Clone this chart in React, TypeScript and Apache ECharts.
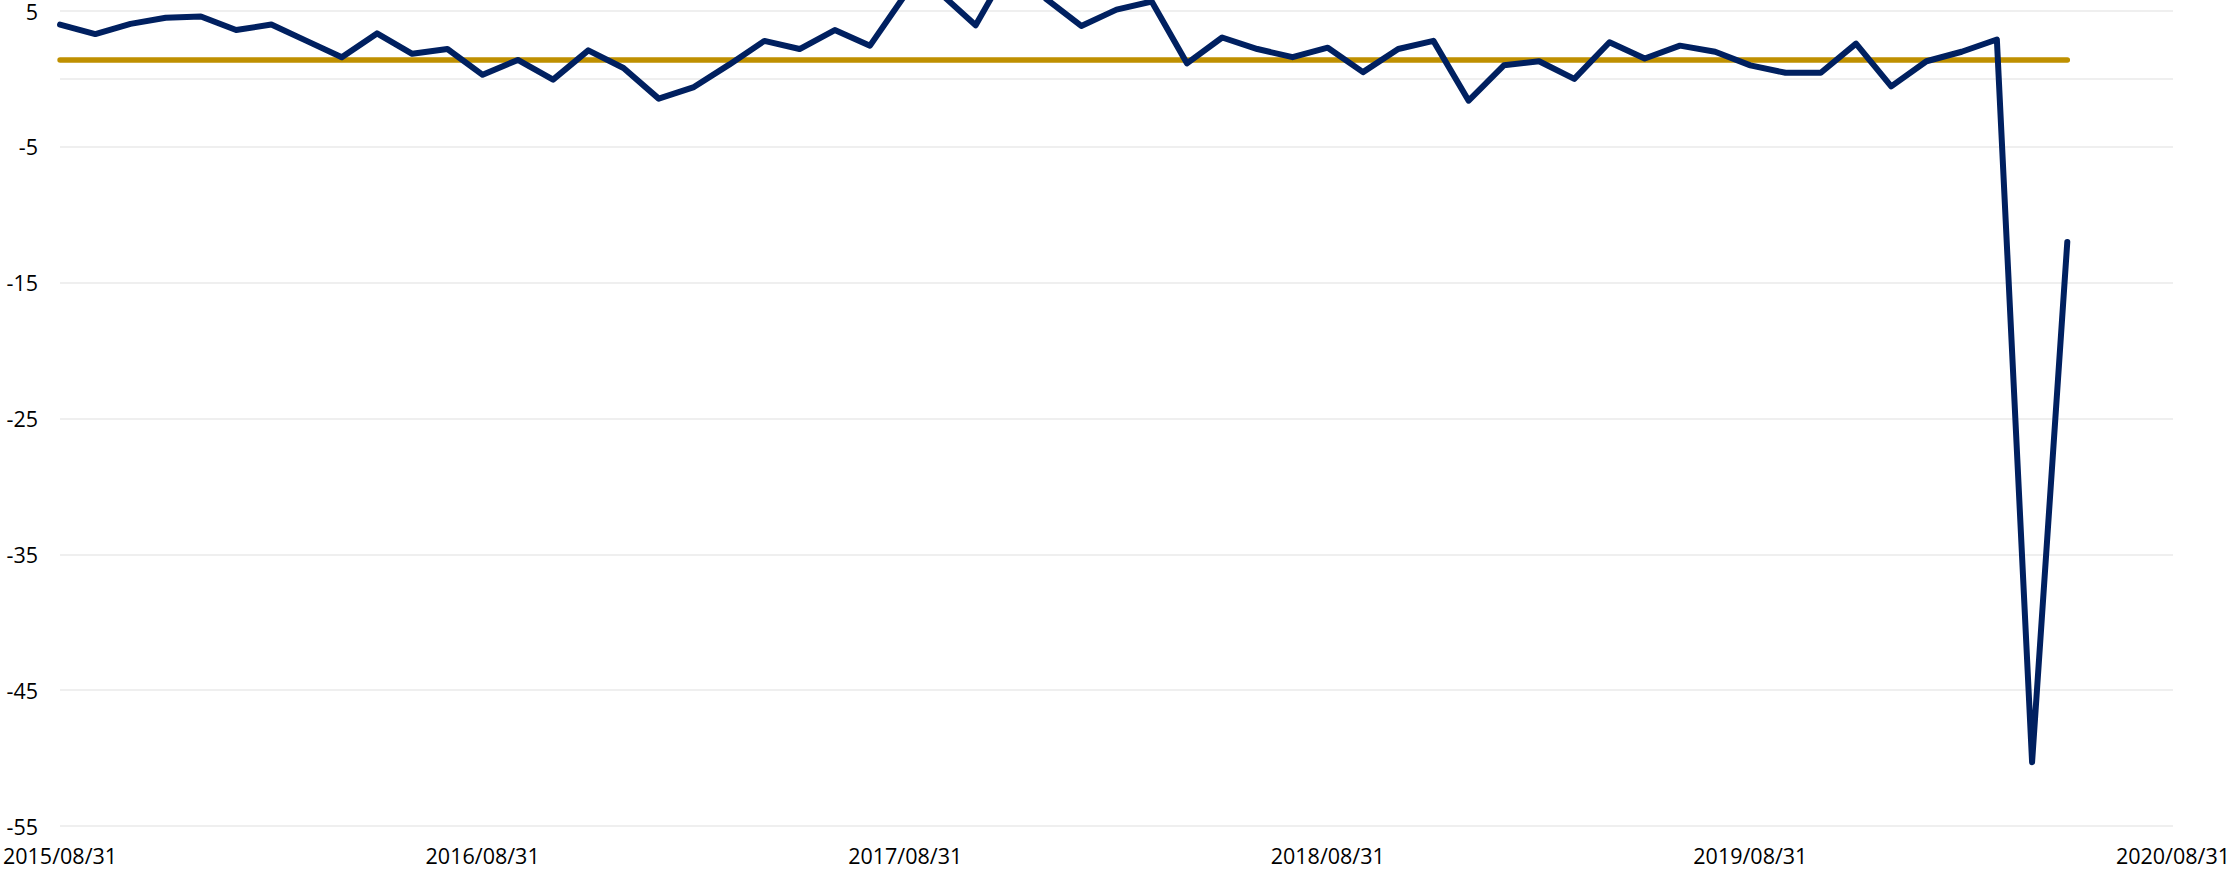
import React, { useEffect, useRef } from "react";
import * as echarts from "echarts";

// Month-end dates from 2015/08/31 to 2020/08/31 (axis categories)
const startYear = 2015;
const startMonth = 8;
const monthCount = 61;
const pad = (n: number) => (n < 10 ? "0" + n : "" + n);
const categories: string[] = [];
for (let i = 0; i < monthCount; i++) {
  const m0 = startMonth - 1 + i;
  const y = startYear + Math.floor(m0 / 12);
  const m = (m0 % 12) + 1;
  const last = new Date(Date.UTC(y, m, 0)).getUTCDate();
  categories.push(`${y}/${pad(m)}/${pad(last)}`);
}

// Monthly index values
const indexValues = [
  4.0, 3.3, 4.05, 4.5, 4.6, 3.6, 4.0, 2.8, 1.6, 3.35,
  1.85, 2.2, 0.3, 1.4, -0.05, 2.1, 0.8, -1.45, -0.6, 1.05,
  2.8, 2.2, 3.6, 2.45, 6.2, 6.3, 3.95, 8.5, 5.9, 3.9,
  5.1, 5.7, 1.15, 3.05, 2.2, 1.6, 2.3, 0.5, 2.2, 2.8,
  -1.6, 1.0, 1.3, 0.0, 2.7, 1.5, 2.45, 2.0, 1.0, 0.45,
  0.45, 2.6, -0.55, 1.3, 2.0, 2.9, -50.3, -12.0,
];

// Long-run reference level
const referenceLevel = 1.4;
const referenceValues = indexValues.map(() => referenceLevel);

// Y-axis range and tick step
const yMin = -55;
const yMax = 5;
const yStep = 10;

const FONT = "'Open Sans', 'Noto Sans', sans-serif";

export default function App() {
  const ref = useRef<HTMLDivElement>(null);
  useEffect(() => {
    if (!ref.current) return;
    const chart = echarts.init(ref.current, null, { renderer: "svg" });
    chart.setOption({
      animation: false,
      backgroundColor: "#ffffff",
      grid: { left: 59, right: 59, top: 8.7, bottom: 45, containLabel: false },
      xAxis: {
        type: "category",
        data: categories,
        boundaryGap: false,
        axisLine: { show: false },
        axisTick: { show: false },
        splitLine: { show: false },
        axisLabel: {
          interval: 11,
          color: "#000000",
          fontFamily: FONT,
          fontSize: 21.5,
          margin: 18,
        },
      },
      yAxis: {
        type: "value",
        min: yMin,
        max: yMax,
        interval: yStep,
        axisLine: { show: false },
        axisTick: { show: false },
        axisLabel: {
          color: "#000000",
          fontFamily: FONT,
          fontSize: 21.5,
          lineHeight: 16,
          margin: 22,
        },
        splitLine: { show: true, lineStyle: { color: "#EFEFEF", width: 2 } },
      },
      series: [
        {
          name: "Reference",
          type: "line",
          data: referenceValues,
          symbol: "none",
          z: 2,
          lineStyle: { color: "#BF9000", width: 5.5, cap: "round" },
          markLine: {
            silent: true,
            z: 1,
            symbol: "none",
            label: { show: false },
            lineStyle: { color: "#EFEFEF", width: 2, type: "solid" },
            data: [{ yAxis: 0 }],
          },
        },
        {
          name: "Index",
          type: "line",
          data: indexValues,
          symbol: "none",
          clip: false,
          z: 3,
          lineStyle: { color: "#002060", width: 6, join: "round", cap: "round" },
        },
      ],
    });
    return () => chart.dispose();
  }, []);
  return (
    <div
      ref={ref}
      style={{ position: "absolute", left: 0, top: 0, width: 2233, height: 871 }}
    />
  );
}
